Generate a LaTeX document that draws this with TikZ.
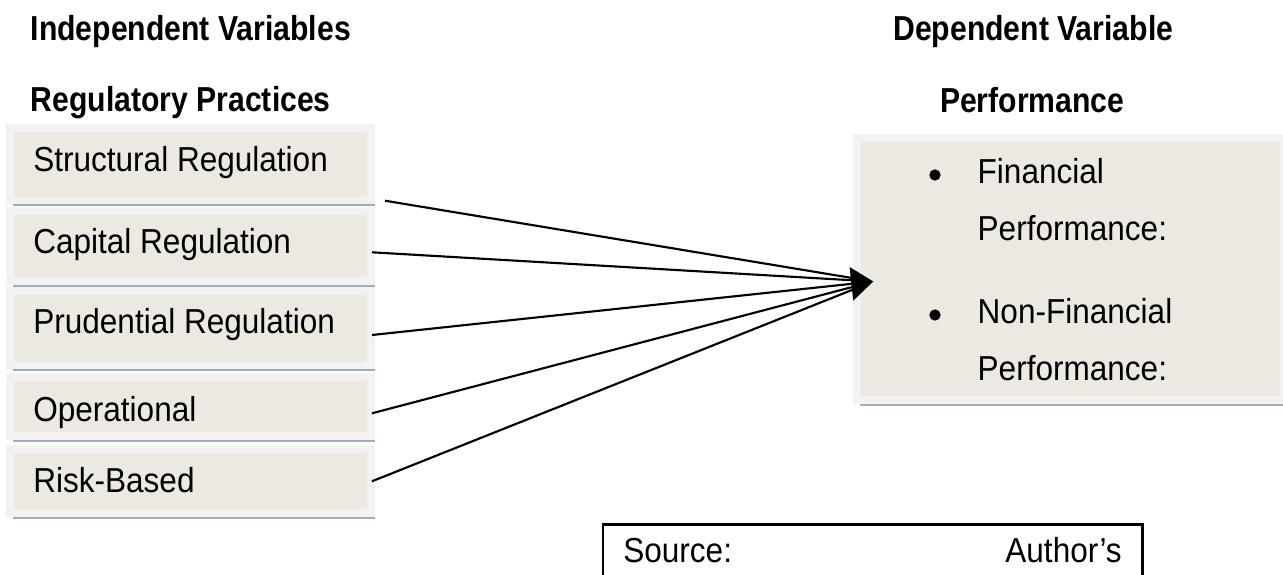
\documentclass[tikz,border=0pt]{standalone}
\usepackage{fontspec}
\setmainfont{Liberation Sans}[FakeStretch=0.91]
\newfontfamily\headfont{Liberation Sans}[FakeStretch=0.87]
\usetikzlibrary{arrows.meta,calc}

\definecolor{panelfill}{RGB}{236,234,224}
\definecolor{panelrim}{RGB}{242,242,242}
\definecolor{rule}{RGB}{160,172,188}

\tikzset{
  panel/.style={rectangle, fill=panelfill, draw=panelrim, line width=6pt,
    outer sep=0pt, inner sep=0pt, minimum width=270.75pt},
  underline/.style={draw=rule, line width=1.5pt},
  label/.style={inner sep=0pt, outer sep=0pt, anchor=base west,
    font=\fontsize{26}{30}\selectfont},
  heading/.style={inner sep=0pt, outer sep=0pt, anchor=base west,
    font=\headfont\bfseries\fontsize{26}{30}\selectfont},
  link/.style={line width=1.6pt, shorten >=7.5pt},
  dot/.style={circle, fill=black, inner sep=0pt, minimum size=8.5pt}
}

\begin{document}
\begin{tikzpicture}[x=0.75pt, y=-0.75pt]
\useasboundingbox (0,0) rectangle (1283,575);
\clip (0,0) rectangle (1283,575);

% column headings
\node[heading] (hIndep) at (30.7,40) {Independent Variables};
\node[heading] (hReg) at (30.7,111.7) {Regulatory Practices};
\node[heading] (hDep) at (893.3,40) {Dependent Variable};
\node[heading] (hPerf) at (940,112) {Performance};

% regulatory practice panels
\node[panel, minimum height=54.75pt] (b1) at (190.85,164) {};
\node[panel, minimum height=52.5pt]  (b2) at (190.85,245.8) {};
\node[panel, minimum height=56pt]    (b3) at (190.85,328.35) {};
\node[panel, minimum height=44.25pt] (b4) at (190.85,406.5) {};
\node[panel, minimum height=47.8pt]  (b5) at (190.85,481.15) {};

\foreach \b in {b1,b2,b3,b4,b5}{
  \draw[underline] ($(\b.south west)+(3,4.8)$) -- ($(\b.south east)+(3.65,4.8)$);
}

\node[label] (t1) at (33.3,171.7) {Structural Regulation};
\node[label] (t2) at (33.3,253.3) {Capital Regulation};
\node[label] (t3) at (33.3,333.3) {Prudential Regulation};
\node[label] (t4) at (33.3,421)   {Operational};
\node[label] (t5) at (33.3,492.3) {Risk-Based};

% performance panel
\node[panel, minimum width=319.9pt, minimum height=196.5pt] (perf) at (1070.75,268.5) {};
\draw[underline] ($(perf.south west)+(2.5,5.5)$) -- ($(perf.south east)+(0,5.5)$);

\node[dot] (d1) at (935,175) {};
\node[dot] (d2) at (935,315) {};
\node[label] (p1) at (977.7,183.3) {Financial};
\node[label] (p2) at (977.7,240)   {Performance:};
\node[label] (p3) at (977.7,323)   {Non-Financial};
\node[label] (p4) at (977.7,380)   {Performance:};

% connectors converging on the performance panel
\coordinate (tip) at ($(perf.west)+(15.8,13)$);
\draw[link] ($(b1.south east)+(13.6,0.2)$) -- (tip);
\draw[link] ($(b2.east)+(0.6,6.5)$) -- (tip);
\draw[link] ($(b4.east)+(0.6,6.8)$) -- (tip);
\draw[link] ($(b5.east)+(0.6,0.15)$) -- (tip);
\draw[line width=1.6pt, -{Triangle[length=16.5pt,width=25pt]}]
  ($(b3.east)+(0.6,6.65)$) -- (tip);

% source box
\node[draw, line width=1.9pt, outer sep=0pt, anchor=north west,
      inner xsep=15.4pt, inner ysep=0pt, text width=373.8pt, align=left,
      text height=28.7pt, text depth=45pt,
      font=\fontsize{26}{30}\selectfont] (src) at (602.8,524.7)
  {Source:\hfill Author's};
\end{tikzpicture}
\end{document}
